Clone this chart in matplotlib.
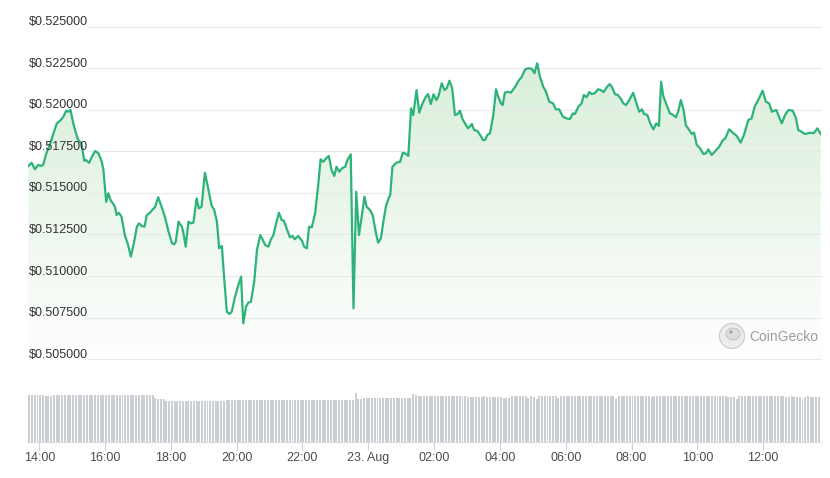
import numpy as np
import matplotlib
matplotlib.use("Agg")
import matplotlib.pyplot as plt
from matplotlib.patches import PathPatch, Ellipse

plt.rcParams['font.family'] = ['Liberation Sans', 'DejaVu Sans']

# ---- data (minutes relative to 22 Aug 14:00) ----
minutes = [-20,-14,-8,-2,3,7,13,20,26,32,38,44,49,53,57,62,67,71,77,82,85,91,96,102,108,114,117,122,126,130,
           135,138,141,145,150,156,162,167,173,178,182,187,192,196,202,207,211,217,223,229,235,242,246,249,254,
           260,263,267,272,275,281,287,291,296,302,308,314,319,324,328,333,337,342,347,351,357,363,368,372,377,
           381,386,392,397,403,407,412,418,422,427,432,437,442,446,451,457,462,466,472,479,483,488,492,497,503,
           509,513,518,523,528,533,538,542,547,552,558,562,568,573,578,583,588,593,597,603,608,614,618,623,627,
           632,637,640,644,651,658,663,669,673,678,682,688,693,699,705,709,714,719,724,728,734,739,743,748,753,
           758,763,767,772,778,782,789,793,799,804,809,813,817,822,828,833,837,842,845,849,855,860,868,874,880,
           886,892,898,903,908,913,919,924,930,937,942,948,955,961,968,973,977,983,989,993,998,1003,1007,1013,
           1019,1024,1029,1035,1040,1044,1050,1055,1060,1065,1070,1076,1083,1090,1094,1099,1103,1109,1114,1120,
           1125,1130,1134,1138,1144,1150,1156,1161,1165,1170,1175,1179,1185,1190,1194,1199,1205,1211,1216,1220,
           1226,1232,1240,1246,1251,1258,1266,1272,1279,1285,1293,1299,1305,1311,1319,1325,1331,1336,1344,1354,
           1360,1366,1374,1380,1384,1390,1396,1402,1407,1412,1419,1425]

prices = [0.51662,0.51681,0.51642,0.51668,0.51662,0.51668,0.51738,0.51798,0.51858,0.51918,0.51934,0.51958,
          0.51994,0.51988,0.51998,0.51918,0.51858,0.51818,0.51798,0.51693,0.51698,0.51681,0.51718,0.51752,
          0.51738,0.51687,0.51638,0.51447,0.51498,0.51457,0.51433,0.51417,0.51367,0.51381,0.51357,0.51247,
          0.51187,0.51117,0.51207,0.51297,0.51317,0.51301,0.51297,0.51367,0.51381,0.51401,0.51413,0.51474,
          0.51417,0.51357,0.51277,0.51197,0.51191,0.51207,0.51327,0.51297,0.51257,0.51177,0.51327,0.51317,
          0.51321,0.51467,0.51407,0.51417,0.51621,0.51528,0.51427,0.51397,0.51327,0.51167,0.51181,0.50996,
          0.50786,0.50772,0.50786,0.50876,0.50946,0.50996,0.50716,0.50816,0.50840,0.50846,0.50966,0.51157,
          0.51247,0.51221,0.51187,0.51177,0.51217,0.51247,0.51317,0.51381,0.51337,0.51333,0.51287,0.51233,
          0.51241,0.51221,0.51241,0.51213,0.51177,0.51167,0.51297,0.51293,0.51377,0.51558,0.51702,0.51687,
          0.51708,0.51722,0.51638,0.51602,0.51657,0.51627,0.51648,0.51657,0.51698,0.51732,0.50806,0.51507,
          0.51247,0.51357,0.51477,0.51417,0.51397,0.51367,0.51257,0.51201,0.51227,0.51317,0.51417,0.51467,
          0.51487,0.51657,0.51681,0.51687,0.51742,0.51734,0.51722,0.52008,0.51968,0.52118,0.51982,0.52038,
          0.52078,0.52094,0.52034,0.52093,0.52058,0.52082,0.52159,0.52118,0.52129,0.52174,0.52129,0.51968,
          0.51974,0.51994,0.51942,0.51908,0.51888,0.51914,0.51878,0.51872,0.51848,0.51818,0.51818,0.51848,
          0.51858,0.51968,0.52123,0.52078,0.52038,0.52028,0.52102,0.52108,0.52102,0.52138,0.52174,0.52198,
          0.52243,0.52249,0.52246,0.52219,0.52279,0.52198,0.52138,0.52108,0.52048,0.52038,0.52002,0.52002,
          0.51958,0.51948,0.51944,0.51978,0.51974,0.52018,0.52038,0.52088,0.52075,0.52106,0.52094,0.52099,
          0.52123,0.52118,0.52106,0.52135,0.52154,0.52138,0.52093,0.52088,0.52068,0.52038,0.52028,0.52058,
          0.52102,0.52028,0.51988,0.52002,0.51974,0.51968,0.51918,0.51882,0.51918,0.51902,0.52168,0.52082,
          0.52028,0.51978,0.51968,0.51954,0.51988,0.52058,0.51998,0.51908,0.51878,0.51854,0.51862,0.51788,
          0.51768,0.51734,0.51738,0.51762,0.51728,0.51748,0.51778,0.51814,0.51828,0.51882,0.51858,0.51842,
          0.51802,0.51848,0.51938,0.51948,0.52022,0.52058,0.52114,0.52048,0.52038,0.51988,0.51998,0.51918,
          0.51968,0.51998,0.51994,0.51948,0.51878,0.51868,0.51854,0.51858,0.51862,0.51858,0.51888,0.51854]

# volume bars (5-minute bars, arbitrary units), one row per hour
volumes = [
    3.31,3.33,3.31,3.31,3.30,3.31,3.27,3.25,3.27,3.31,3.31,3.31,
    3.31,3.31,3.31,3.31,3.31,3.31,3.31,3.31,3.31,3.31,3.31,3.31,
    3.31,3.31,3.31,3.31,3.31,3.29,3.31,3.31,3.31,3.31,3.31,3.31,
    3.31,3.31,3.31,3.31,3.31,3.31,3.31,3.31,3.31,3.31,3.08,3.05,
    3.03,3.01,2.89,2.89,2.89,2.89,2.89,2.89,2.89,2.89,2.89,2.89,
    2.89,2.89,2.89,2.89,2.89,2.89,2.89,2.86,2.89,2.89,2.91,2.91,
    2.93,2.96,2.96,2.96,2.96,2.98,2.98,2.96,2.96,2.99,2.96,2.98,
    2.98,2.96,2.96,2.96,2.96,2.96,2.96,2.96,2.96,2.96,2.96,2.96,
    2.96,2.96,2.96,2.96,2.96,2.93,2.96,2.96,2.96,2.96,2.96,2.96,
    2.96,2.96,2.96,2.96,2.96,2.96,2.96,2.96,2.96,2.96,2.96,3.47,
    3.05,3.03,3.12,3.12,3.12,3.12,3.12,3.12,3.12,3.12,3.12,3.12,
    3.12,3.12,3.12,3.12,3.12,3.12,3.12,3.12,3.38,3.29,3.26,3.26,
    3.26,3.26,3.26,3.27,3.26,3.26,3.26,3.26,3.24,3.26,3.26,3.26,
    3.26,3.26,3.24,3.22,3.19,3.19,3.19,3.19,3.19,3.19,3.21,3.19,
    3.19,3.17,3.19,3.19,3.17,3.12,3.10,3.12,3.24,3.26,3.26,3.26,
    3.26,3.26,3.10,3.24,3.17,3.05,3.26,3.26,3.26,3.26,3.26,3.26,
    3.26,3.10,3.26,3.26,3.26,3.26,3.26,3.26,3.26,3.26,3.24,3.26,
    3.26,3.26,3.26,3.22,3.26,3.26,3.26,3.26,3.26,3.26,3.05,3.22,
    3.22,3.26,3.26,3.26,3.26,3.26,3.26,3.26,3.26,3.24,3.24,3.15,
    3.22,3.26,3.26,3.26,3.26,3.26,3.26,3.26,3.26,3.26,3.26,3.26,
    3.26,3.26,3.26,3.26,3.26,3.26,3.26,3.26,3.24,3.26,3.26,3.24,
    3.24,3.24,3.22,3.20,3.17,3.15,3.05,3.22,3.24,3.24,3.26,3.24,
    3.24,3.24,3.24,3.26,3.24,3.24,3.22,3.24,3.24,3.22,3.24,3.22,
    3.19,3.19,3.22,3.19,3.17,3.19,3.05,3.19,3.22,3.19,3.19,3.19,3.19,
]
volume_start = -20       # minutes, first volume bar
volume_step = 5          # minutes between bars

y_ticks = [0.505, 0.5075, 0.51, 0.5125, 0.515, 0.5175, 0.52, 0.5225, 0.525]
x_tick_labels = ["14:00", "16:00", "18:00", "20:00", "22:00", "23. Aug",
                 "02:00", "04:00", "06:00", "08:00", "10:00", "12:00"]
x_tick_minutes = [0, 120, 240, 360, 480, 600, 720, 840, 960, 1080, 1200, 1320]

# ---- figure ----
W, H = 830, 478
fig = plt.figure(figsize=(W / 100, H / 100), dpi=100)
fig.patch.set_facecolor('white')

left, right = 28.3, 820.7
p_top, p_bot = 26.5, 367.6
v_top, v_bot = 392.0, 442.3
xlim = (-20, 1425)

ax = fig.add_axes([left / W, 1 - p_bot / H, (right - left) / W, (p_bot - p_top) / H])
axv = fig.add_axes([left / W, 1 - v_bot / H, (right - left) / W, (v_bot - v_top) / H])

ymin, ymax = 0.5045, 0.525
ax.set_xlim(*xlim)
ax.set_ylim(ymin, ymax)
ax.axis('off')

line_color = '#2db37a'

# gradient fill under the line
poly = ax.fill_between(minutes, prices, ymin, color='none', lw=0)
path = poly.get_paths()[0]
clip = PathPatch(path, transform=ax.transData, facecolor='none', edgecolor='none')
ax.add_patch(clip)
grad = np.linspace(1, 0, 256)
rgba = np.zeros((256, 1, 4))
rgba[:, 0, 0] = 0.36
rgba[:, 0, 1] = 0.72
rgba[:, 0, 2] = 0.36
rgba[:, 0, 3] = 0.26 * grad
im = ax.imshow(rgba, extent=[xlim[0], xlim[1], ymin, ymax], aspect='auto',
               origin='upper', zorder=1, interpolation='bilinear')
im.set_clip_path(clip)

# gridlines (start after the labels) and labels inside the plot
grid_start = (88 - left) / (right - left)
for v in y_ticks:
    ax.axhline(v, xmin=grid_start, xmax=1, color='#e9e9e9', lw=0.8, zorder=2, clip_on=False)
    ax.annotate(f"${v:.6f}", xy=(0, v), xycoords=('axes fraction', 'data'),
                xytext=(0.6, 1.1), textcoords='offset points', ha='left', va='baseline',
                fontsize=9, color='#333333', zorder=6, annotation_clip=False)

ax.plot(minutes, prices, color=line_color, lw=1.6, zorder=4, solid_joinstyle='round')

# volume bars
vol_x = [volume_start + volume_step * i for i in range(len(volumes))]
axv.bar(vol_x, volumes, width=3.6, align='edge', color='#cbcfd3', lw=0)
axv.set_xlim(*xlim)
axv.set_ylim(0, 3.52)
for s in ['top', 'left', 'right']:
    axv.spines[s].set_visible(False)
axv.spines['bottom'].set_color('#d9dde3')
axv.spines['bottom'].set_linewidth(0.8)
axv.set_yticks([])
axv.set_xticks(x_tick_minutes)
axv.set_xticklabels(x_tick_labels)
axv.tick_params(axis='x', length=5.8, width=0.8, color='#d0d4da', pad=1.2,
                labelsize=9, labelcolor='#4d4d4d')
axv.set_facecolor('none')

# CoinGecko watermark
cx, cy = 732 / W, 1 - 336 / H
fig.add_artist(Ellipse((cx, cy), 25 / W, 25 / H, transform=fig.transFigure,
                       facecolor='#ececec', edgecolor='#c9c9c9', lw=0.8, zorder=5))
fig.add_artist(Ellipse((cx + 1 / W, cy + 2 / H), 14 / W, 12 / H, transform=fig.transFigure,
                       facecolor='#dcdcdc', edgecolor='#bdbdbd', lw=0.6, zorder=6))
fig.add_artist(Ellipse((cx - 1 / W, cy + 4 / H), 3 / W, 3 / H, transform=fig.transFigure,
                       facecolor='#9a9a9a', edgecolor='none', zorder=7))
fig.text(749 / W, 1 - 337 / H, "CoinGecko", ha='left', va='center', fontsize=10,
         color='#9c9c9c', zorder=7)

fig.savefig('out.png', dpi=100, facecolor='white')
